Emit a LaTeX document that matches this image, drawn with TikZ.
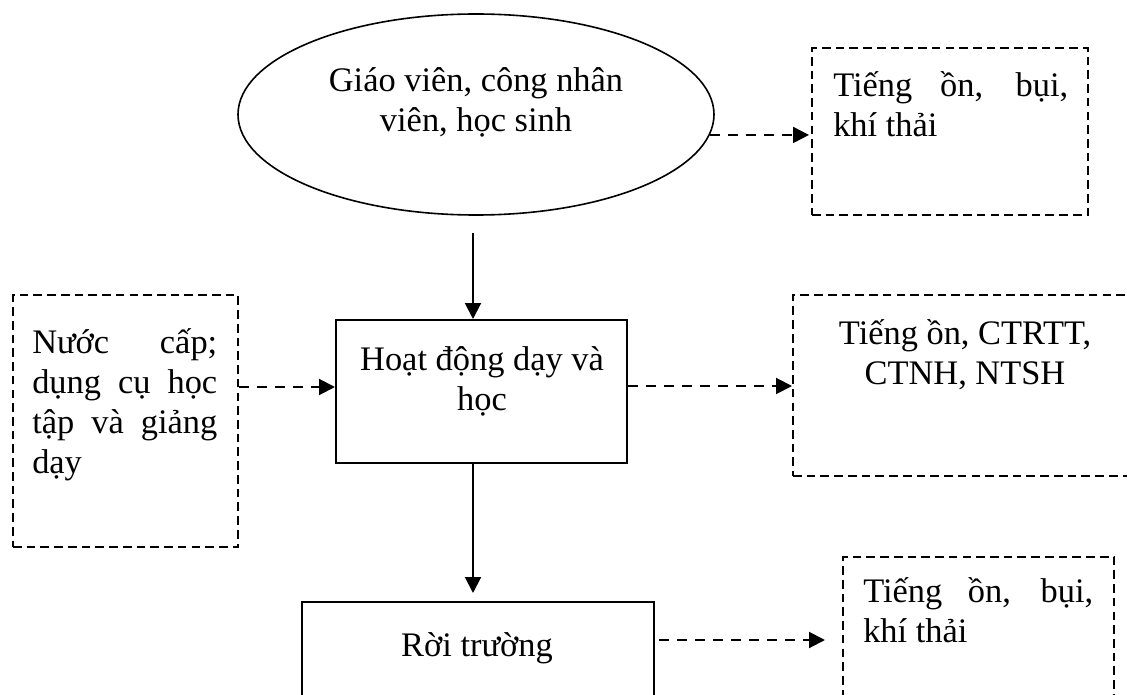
\documentclass[tikz,border=0pt]{standalone}
\usepackage{fontspec}
\setmainfont{Liberation Serif}
\usetikzlibrary{shapes.geometric,arrows.meta,fit,calc}
\begin{document}
\begin{tikzpicture}[x=0.75pt,y=-0.75pt,
  solidbox/.style={draw,line width=1.5pt,inner sep=0pt},
  dashbox/.style={draw,line width=1.5pt,inner sep=0pt,dash pattern=on 6.5pt off 3.8pt},
  lbl/.style={inner sep=0pt,font=\fontsize{25.8}{30}\selectfont},
  solidarrow/.style={line width=1.5pt,-{Triangle[length=12pt,width=12pt]}},
  dasharrow/.style={line width=1.5pt,dash pattern=on 7.5pt off 6pt,-{Triangle[length=12pt,width=12pt]}}]
\useasboundingbox (0,0) rectangle (1127,695);
\clip (0,0) rectangle (1127,695);
% shapes
\node[draw,ellipse,line width=1.2pt,minimum width=357pt,minimum height=150.75pt,inner sep=0pt] (e) at (476,114.5) {};
\coordinate (b1nw) at (812,48); \coordinate (b1se) at (1088,215);
\node[dashbox,fit=(b1nw)(b1se)] (b1) {};
\coordinate (srcnw) at (13,295); \coordinate (srcse) at (238,547);
\node[dashbox,fit=(srcnw)(srcse)] (src) {};
\coordinate (actnw) at (336,320); \coordinate (actse) at (627,463);
\node[solidbox,fit=(actnw)(actse)] (act) {};
\coordinate (b2nw) at (793,295); \coordinate (b2se) at (1150,476);
\node[dashbox,fit=(b2nw)(b2se)] (b2) {};
\coordinate (outnw) at (302,602); \coordinate (outse) at (654,720);
\node[solidbox,fit=(outnw)(outse)] (out) {};
\coordinate (b3nw) at (843,557); \coordinate (b3se) at (1114,720);
\node[dashbox,fit=(b3nw)(b3se)] (b3) {};
% texts
\node[lbl,align=center,anchor=base] (te) at (476,132) {Giáo viên, công nhân\\viên, học sinh};
\node[lbl,text width=176.25pt,align=justify,anchor=base west] (tb1) at (833,97) {Tiếng ồn, bụi, khí thải};
\node[lbl,text width=138.75pt,align=justify,anchor=base west] (tsrc) at (32,353) {Nước cấp; dụng cụ học tập và giảng dạy};
\node[lbl,align=center,anchor=base] (tact) at (482,410) {Hoạt động dạy và\\học};
\node[lbl,align=center,anchor=base] (tb2) at (965,384) {Tiếng ồn, CTRTT,\\CTNH, NTSH};
\node[lbl,anchor=base] (tout) at (477,656) {Rời trường};
\node[lbl,text width=172.5pt,align=justify,anchor=base west] (tb3) at (863,602) {Tiếng ồn, bụi, khí thải};
% connectors
\coordinate (xa) at (473,0);
\coordinate (ya) at (0,387);
\coordinate (yb) at (0,386);
\coordinate (yc) at (0,640);
\draw[solidarrow,shorten <=12.75pt] (xa |- e.south) -- (xa |- act.north);
\draw[solidarrow,shorten >=6pt] (xa |- act.south) -- (xa |- out.north);
\draw[dasharrow,shorten >=1.5pt] (e.-5) -- (e.-5 -| b1.west);
\draw[dasharrow] (src.east |- ya) -- (act.west |- ya);
\draw[dasharrow] (act.east |- yb) -- (b2.west |- yb);
\draw[dasharrow,shorten <=3pt,shorten >=12.75pt] (out.east |- yc) -- (b3.west |- yc);
\end{tikzpicture}
\end{document}
